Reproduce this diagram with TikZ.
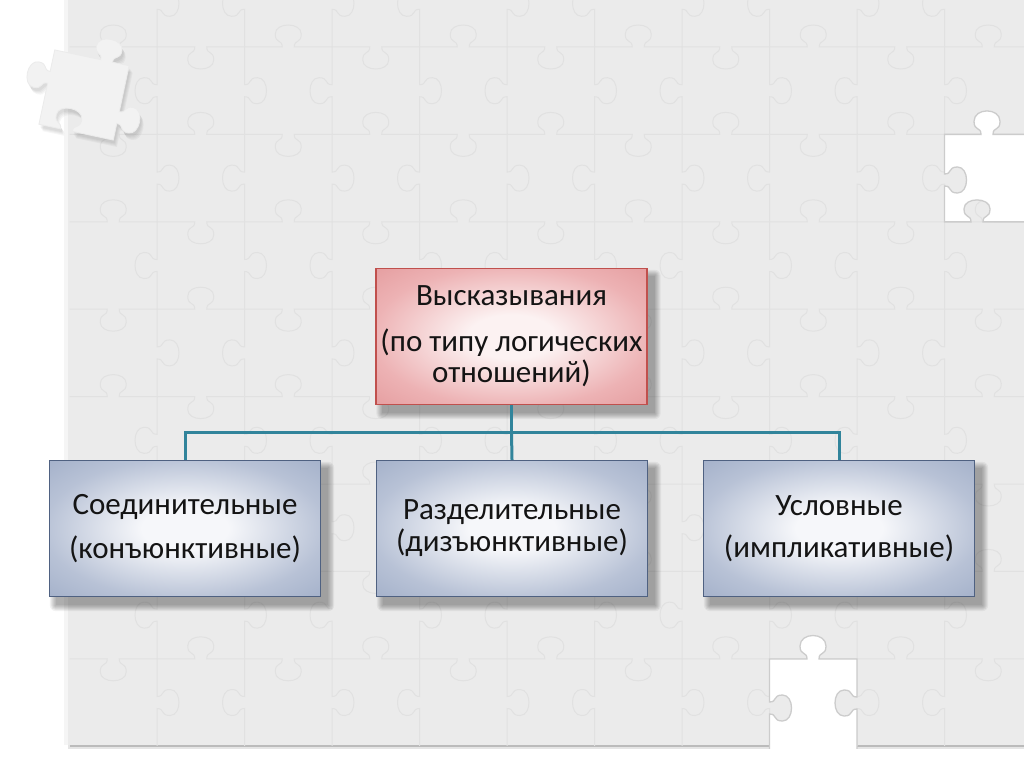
\documentclass[tikz,border=0pt]{standalone}
\usepackage{fontspec}
\setmainfont{Carlito}
\usetikzlibrary{calc}
\definecolor{bggray}{HTML}{EBEBEB}
\definecolor{gridc}{HTML}{E1E1E1}
\definecolor{conncol}{HTML}{31849B}
\definecolor{redborder}{HTML}{C0504D}
\definecolor{pinkc}{HTML}{FCF2F2}
\definecolor{pinke}{HTML}{EDB2B4}
\definecolor{pinkk}{HTML}{E59EA0}
\definecolor{blueborder}{HTML}{4F6181}
\definecolor{bluec}{HTML}{F6F7FA}
\definecolor{bluee}{HTML}{B8C2D6}
\definecolor{bluek}{HTML}{A4B1CA}
\pgfdeclareradialshading{redshade}{\pgfpointorigin}{color(0bp)=(pinkc); color(8bp)=(pinkc); color(26bp)=(pinke); color(36bp)=(pinkk); color(50bp)=(pinkk)}
\pgfdeclareradialshading{blueshade}{\pgfpointorigin}{color(0bp)=(bluec); color(8bp)=(bluec); color(26bp)=(bluee); color(36bp)=(bluek); color(50bp)=(bluek)}
\pgfdeclarelayer{back}
\pgfdeclarelayer{shadowlayer}
\pgfsetlayers{back,shadowlayer,main}
\tikzset{
  box/.style={draw, line width=1.3pt, minimum width=271pt, minimum height=136pt,
    inner sep=0pt, align=center, font=\fontsize{31pt}{31pt}\selectfont, text=black!92},
  topbox/.style={box, draw=redborder, shade, shading=redshade},
  lowbox/.style={box, draw=blueborder, shade, shading=blueshade},
  conn/.style={draw=conncol, line width=3pt},
  gridln/.style={draw=gridc, line width=1pt},
  holeedge/.style={draw=black!20, line width=1.3pt},
}
\newcommand{\softshadow}[1]{%
  \foreach \k in {0,...,6}{%
    \fill[black, opacity=0.05, rounded corners=\k pt]
      ($(#1.north west)+(7-\k,8-\k)$) rectangle ($(#1.south east)+(7+\k,8+\k)$);
  }}
\begin{document}
\begin{tikzpicture}[x=1pt,y=-1pt]
\useasboundingbox (0,0) rectangle (1024,767);

% ---------- nodes ----------
\node[topbox] (top) at (511.5,336.5) {Высказывания\\[15pt](по типу логических\\отношений)};
\node[lowbox] (conj) at (185,528.5) {Соединительные\\[13pt](конъюнктивные)};
\node[lowbox] (disj) at (512,528.5) {Разделительные\\[1pt](дизъюнктивные)};
\node[lowbox] (impl) at (839,528.5) {Условные\\[11pt](импликативные)};

% ---------- connectors ----------
\coordinate (bus) at ($(top.south)+(0,27)$);
\draw[conn] (top.south) -- (bus);
\draw[conn] (conj.north) |- (bus) -| (impl.north);
\draw[conn] (bus) -- (disj.north);

% ---------- shadows ----------
\begin{pgfonlayer}{shadowlayer}
  \softshadow{top}
  \softshadow{conj}
  \softshadow{disj}
  \softshadow{impl}
\end{pgfonlayer}

% ---------- puzzle background ----------
\begin{pgfonlayer}{back}
  \fill[white] (0,0) rectangle (1024,767);
  \fill[black, opacity=0.10] (68,742) rectangle (1024,749);
  \fill[black, opacity=0.18] (70,744) rectangle (1024,747);
  \fill[black, opacity=0.04] (64,0) rectangle (68,745);
  \fill[bggray] (68,0) rectangle (1024,745);
  \begin{scope}
    \clip (68,0) rectangle (1024,745);
    \foreach \i in {0,...,9}{
      \foreach \j in {0,...,8}{
        \pgfmathsetmacro{\px}{157+87.5*\i}
        \pgfmathsetmacro{\py}{3.3+87.4*\j}
        \pgfmathsetmacro{\dirV}{1-2*mod(\i+\j,2)}
        \pgfmathsetmacro{\ea}{\px+8*\dirV}
        \pgfmathsetmacro{\eb}{\px+3*\dirV}
        \pgfmathsetmacro{\ec}{\px+13*\dirV}
        \pgfmathsetmacro{\ed}{\px+25*\dirV}
        \draw[gridln] (\px,\py-43.7) -- (\px,\py-6)
          .. controls (\ea,\py-6) and (\eb,\py-13) .. (\ec,\py-13)
          .. controls (\ed,\py-13) and (\ed,\py+13) .. (\ec,\py+13)
          .. controls (\eb,\py+13) and (\ea,\py+6) .. (\px,\py+6)
          -- (\px,\py+43.7);
      }
    }
    \foreach \i in {0,...,10}{
      \foreach \j in {0,...,7}{
        \pgfmathsetmacro{\qx}{113.25+87.5*\i}
        \pgfmathsetmacro{\qy}{47+87.4*\j}
        \pgfmathsetmacro{\dirH}{1-2*mod(\i+\j+1,2)}
        \pgfmathsetmacro{\fa}{\qy+8*\dirH}
        \pgfmathsetmacro{\fb}{\qy+3*\dirH}
        \pgfmathsetmacro{\fc}{\qy+13*\dirH}
        \pgfmathsetmacro{\fd}{\qy+25*\dirH}
        \draw[gridln] (\qx-43.75,\qy) -- (\qx-6,\qy)
          .. controls (\qx-6,\fa) and (\qx-13,\fb) .. (\qx-13,\fc)
          .. controls (\qx-13,\fd) and (\qx+13,\fd) .. (\qx+13,\fc)
          .. controls (\qx+13,\fb) and (\qx+6,\fa) .. (\qx+6,\qy)
          -- (\qx+43.75,\qy);
      }
    }
  \end{scope}
  % hole at right
  \path[fill=white, holeedge]
    (944.5,134.4) -- (981,134.4)
    .. controls (981,126.4) and (974,131.4) .. (974,121.4)
    .. controls (974,107.4) and (1000,107.4) .. (1000,121.4)
    .. controls (1000,131.4) and (993,126.4) .. (993,134.4)
    -- (1030,134.4) -- (1030,221.9) -- (983,221.9)
    .. controls (983,213.9) and (990,218.9) .. (990,208.9)
    .. controls (990,196.9) and (964,196.9) .. (964,208.9)
    .. controls (964,218.9) and (971,213.9) .. (971,221.9)
    -- (944.5,221.9) -- (944.5,186)
    .. controls (952.5,186) and (947.5,193) .. (957.5,193)
    .. controls (969.5,193) and (969.5,167) .. (957.5,167)
    .. controls (947.5,167) and (952.5,174) .. (944.5,174)
    -- cycle;
  % hole at bottom
  \path[fill=white, holeedge]
    (769.5,659) -- (807,659)
    .. controls (807,651) and (800,656) .. (800,646)
    .. controls (800,632) and (826,632) .. (826,646)
    .. controls (826,656) and (819,651) .. (819,659)
    -- (857,659) -- (857,697)
    .. controls (849,697) and (854,690) .. (844,690)
    .. controls (832,690) and (832,716) .. (844,716)
    .. controls (854,716) and (849,709) .. (857,709)
    -- (857,767) -- (769.5,767) -- (769.5,714)
    .. controls (777.5,714) and (772.5,721) .. (782.5,721)
    .. controls (794.5,721) and (794.5,695) .. (782.5,695)
    .. controls (772.5,695) and (777.5,702) .. (769.5,702)
    -- cycle;
  \fill[white] (68,749) rectangle (1024,767);
  % loose piece at top left
  \def\piecepath{(-38,-38) -- (9,-38)
    .. controls (9,-46) and (2,-41) .. (2,-51)
    .. controls (2,-63) and (28,-63) .. (28,-51)
    .. controls (28,-41) and (21,-46) .. (21,-38)
    -- (38,-38) -- (38,9)
    .. controls (46,9) and (41,2) .. (51,2)
    .. controls (63,2) and (63,28) .. (51,28)
    .. controls (41,28) and (46,21) .. (38,21)
    -- (38,38) -- (-4,38)
    .. controls (-4,30) and (3,35) .. (3,25)
    .. controls (3,13) and (-23,13) .. (-23,25)
    .. controls (-23,35) and (-16,30) .. (-16,38)
    -- (-38,38) -- (-38,-4)
    .. controls (-46,-4) and (-41,3) .. (-51,3)
    .. controls (-63,3) and (-63,-23) .. (-51,-23)
    .. controls (-41,-23) and (-46,-16) .. (-38,-16)
    -- cycle}
  \begin{scope}[shift={(84,95)}, rotate=-12]
    \foreach \k in {1,...,4}{
      \fill[black, opacity=0.035, shift={(1+\k,2+\k)}] \piecepath;
    }
    \fill[draw=black!8, line width=0.8pt, fill=black!5] \piecepath;
  \end{scope}
\end{pgfonlayer}
\end{tikzpicture}
\end{document}
